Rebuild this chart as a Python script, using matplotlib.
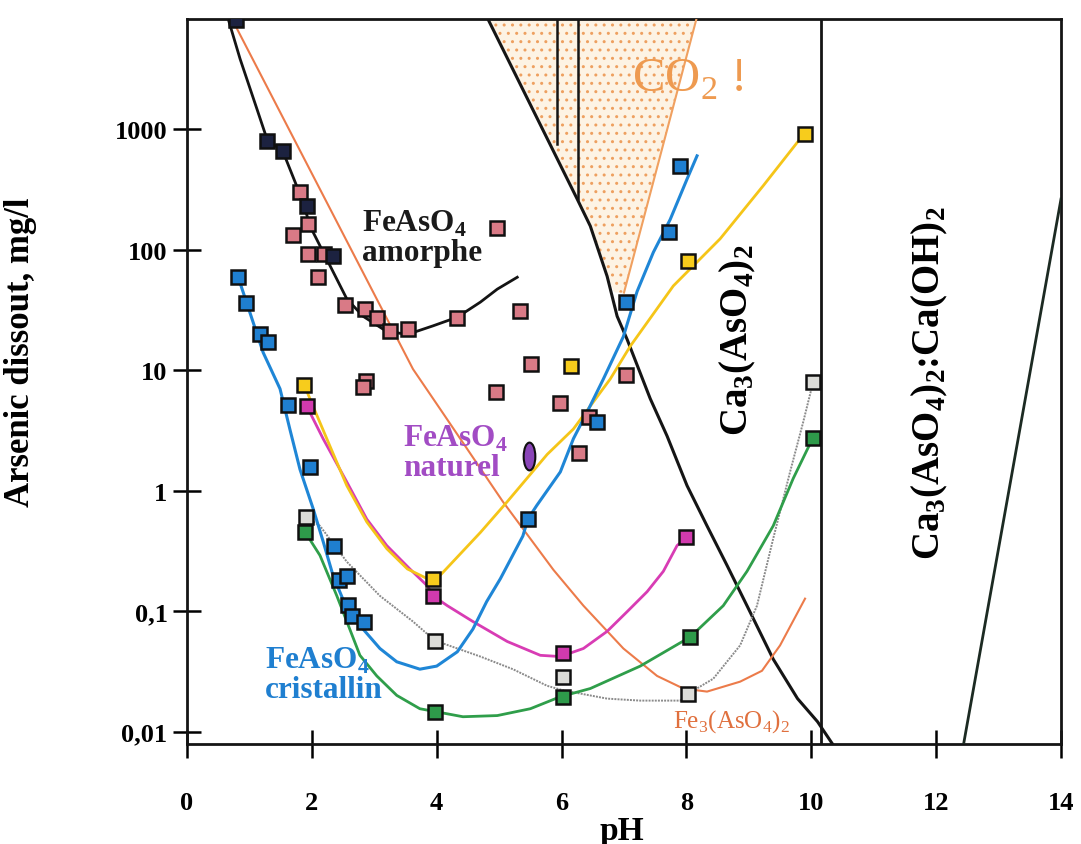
import numpy as np
import matplotlib
matplotlib.use("Agg")
import matplotlib.pyplot as plt
from matplotlib.markers import MarkerStyle
from matplotlib.transforms import Affine2D
from matplotlib.patches import Polygon

plt.rcParams['font.family'] = ['Liberation Serif', 'DejaVu Serif']
plt.rcParams['mathtext.fontset'] = 'custom'
plt.rcParams['mathtext.rm'] = 'Liberation Serif'

# ---- data (pH, As mg/l) ----
YMIN, YMAX = 0.0079, 8200

# amorphous FeAsO4 curve + points
amorph_ph = [0.66, 0.85, 1.12, 1.28, 1.54, 1.86, 1.97, 2.24, 2.56, 2.82, 3.14, 3.41, 3.62, 3.94, 4.33, 4.7, 4.97, 5.29]
amorph_val = [8200, 3830, 1470, 830, 645, 248, 157, 83, 39, 28, 21.9, 20.2, 20.5, 23.3, 27.5, 36.7, 47, 59]
dark_ph = [0.79, 1.28, 1.54, 1.92, 2.34]
dark_val = [8000, 790, 660, 230, 88]
pink_ph = [1.81, 1.94, 1.70, 1.94, 2.2, 2.1, 2.53, 2.85, 3.04, 3.25, 3.54, 4.33, 4.97, 5.34,
           2.87, 2.82, 5.51, 4.95, 5.98, 6.44, 6.28, 7.04]
pink_val = [300, 163, 132, 92, 92, 59, 35, 32, 27, 21, 22, 27, 150, 31,
            8.1, 7.3, 11.2, 6.6, 5.3, 4.1, 2.06, 9.1]

# crystalline FeAsO4 (blue)
blue_line_ph = [0.82, 1.22, 1.49, 1.65, 1.81, 2.02, 2.18, 2.34, 2.56, 2.82, 3.09, 3.36, 3.73, 4.0, 4.33,
                4.58, 4.8, 5.02, 5.38, 5.46, 5.6, 5.98, 6.19, 6.41, 6.67, 6.99, 7.21, 7.47, 7.74, 8.01, 8.17]
blue_line_val = [59, 14, 7.0, 3.2, 1.5, 0.71, 0.38, 0.197, 0.105, 0.071, 0.049, 0.038, 0.033, 0.035, 0.046,
                 0.071, 0.12, 0.186, 0.42, 0.58, 0.75, 1.43, 2.7, 4.5, 8.45, 19, 45, 95, 178, 385, 600]
blue_ph = [0.82, 0.95, 1.17, 1.30, 1.62, 1.97, 2.36, 2.44, 2.56, 2.58, 2.64, 2.84, 5.46, 6.57, 7.04, 7.72, 7.90]
blue_val = [59, 36, 20, 17, 5.1, 1.57, 0.35, 0.18, 0.197, 0.113, 0.091, 0.082, 0.58, 3.7, 37, 140, 490]

# yellow series
yellow_line_ph = [1.88, 2.02, 2.29, 2.56, 2.88, 3.2, 3.53, 3.85, 3.94, 4.05, 4.7, 5.13, 5.77, 6.19, 6.78,
                  7.1, 7.79, 8.54, 9.23, 9.82, 9.9]
yellow_line_val = [7.5, 5.0, 2.34, 1.1, 0.55, 0.33, 0.224, 0.186, 0.186, 0.197, 0.45, 0.81, 2.0, 3.25, 8.45,
                   15.8, 50, 123, 339, 830, 910]
yellow_ph = [1.88, 3.94, 6.15, 8.03, 9.9]
yellow_val = [7.5, 0.186, 10.8, 80, 910]

# magenta series
mag_line_ph = [1.92, 2.18, 2.56, 2.88, 3.2, 3.57, 3.85, 3.94, 4.17, 4.58, 5.13, 5.66, 5.98, 6.35, 6.73,
               7.05, 7.37, 7.63, 7.85, 8.0]
mag_line_val = [5.0, 2.7, 1.18, 0.58, 0.35, 0.224, 0.162, 0.134, 0.111, 0.082, 0.056, 0.043, 0.042, 0.049,
                0.068, 0.099, 0.145, 0.214, 0.35, 0.41]
mag_ph = [1.92, 3.94, 6.03, 8.0]
mag_val = [5.0, 0.134, 0.045, 0.41]

# green series
green_line_ph = [1.89, 2.13, 2.4, 2.56, 2.77, 3.04, 3.36, 3.73, 3.97, 4.42, 4.97, 5.5, 5.98, 6.46, 7.26,
                 8.06, 8.59, 8.97, 9.39, 9.71, 9.94, 10.03]
green_line_val = [0.455, 0.29, 0.134, 0.082, 0.043, 0.029, 0.020, 0.0155, 0.0147, 0.0133, 0.0136, 0.0155,
                  0.0195, 0.0228, 0.035, 0.061, 0.111, 0.214, 0.51, 1.26, 2.22, 2.74]
green_ph = [1.89, 3.97, 6.03, 8.06, 10.03]
green_val = [0.455, 0.0147, 0.0195, 0.061, 2.74]

# grey series (dotted)
grey_line_ph = [1.9, 2.13, 2.56, 3.09, 3.62, 3.97, 4.7, 5.22, 5.77, 6.03, 6.73, 7.26, 7.9, 8.03, 8.43,
                8.86, 9.13, 9.39, 9.66, 9.87, 10.03]
grey_line_val = [0.61, 0.51, 0.257, 0.134, 0.082, 0.057, 0.042, 0.033, 0.024, 0.022, 0.0188, 0.0181,
                 0.0181, 0.0207, 0.0275, 0.052, 0.111, 0.40, 1.43, 3.7, 8.0]
grey_ph = [1.9, 3.97, 6.03, 8.03, 10.03]
grey_val = [0.61, 0.057, 0.0286, 0.0207, 8.0]

# Fe3(AsO4)2 (orange)
fe3_ph = [0.72, 3.62, 4.05, 5.06, 5.87, 6.35, 6.99, 7.53, 7.95, 8.33, 8.86, 9.21, 9.5, 9.9]
fe3_val = [8200, 10.2, 4.8, 0.81, 0.22, 0.111, 0.049, 0.029, 0.0228, 0.0215, 0.026, 0.032,
           0.052, 0.127]

# CO2 line
co2_ph = [7.0, 8.16]
co2_val = [44, 8200]

# Ca3(AsO4)2 boundary
ca_ph = [4.82, 6.25, 6.46, 6.73, 6.89, 7.05, 7.42, 7.69, 8.01, 8.33, 8.65, 8.97, 9.39, 9.78, 10.1, 10.34]
ca_val = [8200, 263, 157, 60, 28, 18, 5.8, 2.84, 1.1, 0.51, 0.24, 0.111, 0.040, 0.0188, 0.0121, 0.0079]

# Ca(OH)2 boundary
caoh_ph = [12.44, 14.0]
caoh_val = [0.0079, 263]

# vertical bars in the CO2 zone and field limit
vbar_ph = [5.93, 6.27]
vbar_low = [750, 263]
ca_limit_ph = 10.15

# natural FeAsO4
nat_ph, nat_val = 5.48, 1.95

yticks = [0.01, 0.1, 1, 10, 100, 1000]
ytick_labels = ['0,01', '0,1', '1', '10', '100', '1000']
xticks = [0, 2, 4, 6, 8, 10, 12, 14]

# ---- figure ----
fig = plt.figure(figsize=(10.81, 8.45), dpi=100)
ax = fig.add_axes([187 / 1081, 1 - 745 / 845, 874 / 1081, 725 / 845])
ax.set_yscale('log')
ax.set_xlim(0, 14)
ax.set_ylim(YMIN, YMAX)

# CO2 dotted zone
zone_mask = np.array(ca_val) >= co2_val[0]
zx = list(np.array(ca_ph)[zone_mask]) + [6.85] + co2_ph
zy = list(np.array(ca_val)[zone_mask]) + [co2_val[0]] + co2_val
ax.add_patch(Polygon(list(zip(zx, zy)), closed=True, facecolor='#fdf3e4',
                     edgecolor='#eea060', hatch='..', linewidth=0, zorder=1))

ax.plot(ca_ph, ca_val, color='#151515', lw=2.2, zorder=3)
ax.plot(caoh_ph, caoh_val, color='#1c2a22', lw=2.0, zorder=3)
for p, low in zip(vbar_ph, vbar_low):
    ax.plot([p, p], [low, YMAX], color='#151515', lw=1.8, zorder=3)
ax.axvline(ca_limit_ph, color='#151515', lw=2.0, zorder=3)

ax.plot(fe3_ph, fe3_val, color='#ec7b4a', lw=1.5, zorder=4)
ax.plot(co2_ph, co2_val, color='#f0a060', lw=1.5, zorder=4)
ax.plot(amorph_ph, amorph_val, color='#141414', lw=2.0, zorder=4)
ax.plot(grey_line_ph, grey_line_val, color='#8a8a8a', lw=1.4, ls=(0, (1, 0.6)), zorder=4)
ax.plot(green_line_ph, green_line_val, color='#2f9e4a', lw=2.0, zorder=4)
ax.plot(mag_line_ph, mag_line_val, color='#d83cb4', lw=2.0, zorder=4)
ax.plot(yellow_line_ph, yellow_line_val, color='#f5c518', lw=2.0, zorder=4)
ax.plot(blue_line_ph, blue_line_val, color='#1f86d6', lw=2.2, zorder=4)

sq = dict(marker='s', ms=10, mec='#101010', mew=1.8, ls='none', zorder=6)
ax.plot(pink_ph, pink_val, mfc='#d97a86', **sq)
ax.plot(dark_ph, dark_val, mfc='#1c2240', **sq)
ax.plot(blue_ph, blue_val, mfc='#1f7fd0', **sq)
ax.plot(yellow_ph, yellow_val, mfc='#f7cc1c', **sq)
ax.plot(mag_ph, mag_val, mfc='#d23aae', **sq)
ax.plot(green_ph, green_val, mfc='#2e9a4a', **sq)
ax.plot(grey_ph, grey_val, mfc='#dcdcd8', **sq)
ax.plot([nat_ph], [nat_val], marker=MarkerStyle('o', transform=Affine2D().scale(0.42, 1.0)),
        ms=20, mfc='#8a45b8', mec='#101010', mew=1.5, ls='none', zorder=6)

# labels in the plot
lbl = dict(fontsize=22.5, fontweight='bold', ha='left', va='center', linespacing=1.0, zorder=7)
ax.text(2.8, 126, 'FeAsO$_\\mathregular{4}$\namorphe', color='#1a1a1a', **lbl)
ax.text(3.46, 2.09, 'FeAsO$_\\mathregular{4}$\nnaturel', color='#a24cc4', **lbl)
ax.text(1.25, 0.030, 'FeAsO$_\\mathregular{4}$\ncristallin', color='#1f7fd0', **lbl)
ax.text(7.13, 2600, 'CO$_\\mathregular{2}$ !', fontsize=35, color='#ee9a50',
        ha='left', va='center', zorder=7)
ax.text(8.83, 18.2, 'Ca$_\\mathregular{3}$(AsO$_\\mathregular{4}$)$_\\mathregular{2}$', fontsize=28,
        fontweight='bold', rotation=90, ha='center', va='center', zorder=7)
ax.text(11.9, 7.9, 'Ca$_\\mathregular{3}$(AsO$_\\mathregular{4}$)$_\\mathregular{2}$:Ca(OH)$_\\mathregular{2}$',
        fontsize=28, fontweight='bold', rotation=90, ha='center', va='center', zorder=7)
ax.text(8.72, 0.0123, 'Fe$_\\mathregular{3}$(AsO$_\\mathregular{4}$)$_\\mathregular{2}$', fontsize=18,
        color='#e0703e', ha='center', va='center', zorder=7)

# axes cosmetics
for s in ax.spines.values():
    s.set_linewidth(2.0)
    s.set_color('#151515')
ax.set_yticks(yticks)
ax.set_yticklabels(ytick_labels)
ax.yaxis.set_minor_locator(matplotlib.ticker.NullLocator())
ax.set_xticks(xticks)
ax.tick_params(axis='both', direction='inout', length=20, width=1.8, labelsize=19)
ax.tick_params(axis='x', pad=24)
ax.tick_params(axis='y', pad=4)
for lab in ax.get_xticklabels() + ax.get_yticklabels():
    lab.set_fontweight('bold')

ax.set_xlabel('pH', fontsize=24, fontweight='bold')
ax.xaxis.set_label_coords(0.498, -0.098)
ax.set_ylabel('Arsenic dissout, mg/l', fontsize=25, fontweight='bold')
ax.yaxis.set_label_coords(-0.172, 0.542)

fig.savefig('out.png', dpi=100)
